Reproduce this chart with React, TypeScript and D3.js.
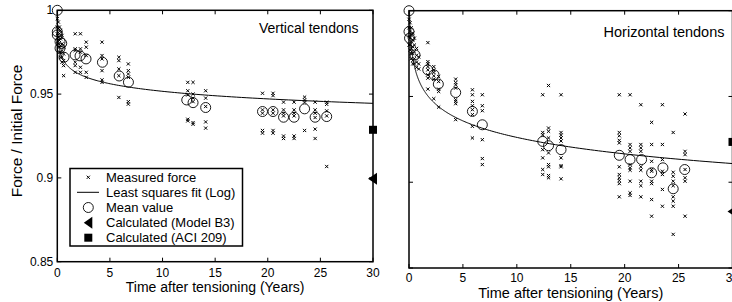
import React from 'react';
import * as d3 from 'd3';

const xTicks = [0, 5, 10, 15, 20, 25, 30];
const xTickLabels = ['0', '5', '10', '15', '20', '25', '30'];
const yTicks = [0.85, 0.9, 0.95, 1];
const yTickLabels = ['0.85', '0.9', '0.95', '1'];

// Vertical tendons – measured force groups
const vertGroupT = [0, 0.1, 0.2, 0.3, 0.45, 0.6, 1.7, 2.2, 2.75, 4.25, 5.85, 6.75, 12.4, 12.9, 14.1, 19.5, 20.5, 21.5, 22.5, 23.5, 24.5, 25.6];
const vertGroupV = [
  [0.995, 0.99, 0.986],
  [0.993, 0.989, 0.984, 0.98],
  [0.99, 0.986, 0.982, 0.978, 0.975],
  [0.988, 0.983, 0.979, 0.975, 0.972],
  [0.985, 0.98, 0.976, 0.972, 0.969],
  [0.978, 0.974, 0.97, 0.967, 0.961],
  [0.986, 0.977, 0.976, 0.969, 0.967, 0.963],
  [0.986, 0.977, 0.975, 0.966, 0.963],
  [0.981, 0.978, 0.973, 0.963, 0.96],
  [0.981, 0.973, 0.971, 0.964, 0.9585, 0.957],
  [0.972, 0.97, 0.965, 0.961, 0.948],
  [0.968, 0.964, 0.962, 0.96, 0.9455, 0.944],
  [0.957, 0.952, 0.9495, 0.935, 0.934],
  [0.957, 0.95, 0.9476, 0.9455, 0.933, 0.932],
  [0.952, 0.9476, 0.9426, 0.9334, 0.9297],
  [0.9505, 0.9406, 0.9386, 0.9283, 0.9267],
  [0.9505, 0.9491, 0.9406, 0.9386, 0.9283, 0.9267],
  [0.9452, 0.9406, 0.9386, 0.937, 0.925, 0.9235],
  [0.9452, 0.9406, 0.9386, 0.937, 0.925, 0.9235],
  [0.9482, 0.9465, 0.9452, 0.9283],
  [0.9452, 0.9406, 0.9386, 0.936, 0.9291, 0.9235],
  [0.9452, 0.9439, 0.94, 0.937, 0.9068],
];
const vertMeanT = [0, 0, 0, 0.26, 0.42, 0.26, 0.64, 1.69, 2.16, 2.73, 4.29, 5.88, 6.76, 12.3, 12.9, 14.1, 19.5, 20.5, 21.5, 22.5, 23.5, 24.5, 25.6];
const vertMeanV = [1.0, 0.9872, 0.9853, 0.9813, 0.9803, 0.9774, 0.972, 0.9734, 0.9728, 0.971, 0.969, 0.9608, 0.9571, 0.9465, 0.9449, 0.942, 0.9396, 0.9396, 0.9362, 0.9362, 0.9412, 0.9362, 0.9366];
const vertFitA = 0.9667;
const vertFitB = 0.00653;
const vertB3 = 0.8995;
const vertACI = 0.9287;

// Horizontal tendons – measured force groups
const horGroupT = [0, 0.1, 0.2, 0.35, 0.5, 0.7, 0.9, 1.75, 2.3, 2.75, 4.33, 5.88, 6.8, 12.4, 12.94, 14.1, 19.5, 20.5, 21.5, 22.5, 23.5, 24.5, 25.6];
const horGroupV = [
  [0.995, 0.99, 0.985, 0.98],
  [0.993, 0.988, 0.984, 0.98, 0.977],
  [0.99, 0.986, 0.982, 0.978, 0.975, 0.972],
  [0.987, 0.983, 0.979, 0.975, 0.971, 0.969],
  [0.984, 0.98, 0.976, 0.972, 0.969],
  [0.978, 0.974, 0.97, 0.967],
  [0.973, 0.969, 0.966],
  [0.9814, 0.9703, 0.969, 0.9674, 0.9655, 0.9626, 0.9607, 0.9543],
  [0.9674, 0.9655, 0.964, 0.962, 0.96, 0.9487],
  [0.9616, 0.9587, 0.9543, 0.9529, 0.9438],
  [0.9601, 0.9581, 0.9568, 0.9549, 0.9481, 0.9471, 0.9458, 0.9365],
  [0.9539, 0.951, 0.9471, 0.9446, 0.9423, 0.9394, 0.9326, 0.9258],
  [0.951, 0.9446, 0.9417, 0.9248, 0.9138, 0.9103],
  [0.951, 0.929, 0.9276, 0.919, 0.9142, 0.9074, 0.9045],
  [0.9564, 0.9316, 0.9297, 0.9258, 0.9171, 0.9103, 0.909, 0.9039, 0.9026],
  [0.951, 0.929, 0.9274, 0.9258, 0.924, 0.9142, 0.9097, 0.909, 0.902],
  [0.951, 0.929, 0.9271, 0.9244, 0.9229, 0.909, 0.9045, 0.9026, 0.901, 0.8992, 0.8915],
  [0.951, 0.922, 0.92, 0.918, 0.9103, 0.9084, 0.907, 0.9006, 0.8938, 0.8923],
  [0.9452, 0.922, 0.92, 0.918, 0.909, 0.907, 0.9006, 0.898, 0.8915],
  [0.9349, 0.922, 0.9122, 0.9074, 0.9064, 0.9006, 0.8992, 0.8899, 0.8802],
  [0.9452, 0.922, 0.9132, 0.9064, 0.9045, 0.8958, 0.886],
  [0.929, 0.9058, 0.9035, 0.9006, 0.898, 0.8915, 0.889, 0.886, 0.8696],
  [0.9398, 0.918, 0.9161, 0.9074, 0.9026, 0.9006, 0.8802],
];
const horMeanT = [0, 0, 0.05, 0.56, 1.74, 2.32, 2.72, 4.33, 5.88, 6.8, 12.4, 12.94, 14.1, 19.5, 20.5, 21.57, 22.5, 23.55, 24.5, 25.57];
const horMeanV = [1.0, 0.9878, 0.984, 0.9742, 0.9655, 0.9626, 0.9572, 0.9523, 0.9413, 0.9335, 0.9238, 0.9213, 0.919, 0.9157, 0.9132, 0.9132, 0.9055, 0.9084, 0.8962, 0.9074];
const horFitA = 0.9581;
const horFitB = 0.01388;
const horB3 = 0.883;
const horACI = 0.9235;

const legendLabels = ['Measured force', 'Least squares fit (Log)', 'Mean value', 'Calculated (Model B3)', 'Calculated (ACI 209)'];

const FONT = 'Liberation Sans, Arial, Helvetica, sans-serif';

type PanelProps = {
  x0: number; x1: number; yTop: number; yBot: number;
  groupT: number[]; groupV: number[][];
  meanT: number[]; meanV: number[];
  fitA: number; fitB: number; b3: number; aci: number;
  title: string; titleX: number; titleY: number; titleSize: number;
  showYLabels: boolean; xLabelY: number; xTitleY: number; xTitleSize: number;
};

function Cross({ cx, cy, s = 1.6 }: { cx: number; cy: number; s?: number }) {
  return (
    <path d={`M${cx - s},${cy - s}L${cx + s},${cy + s}M${cx - s},${cy + s}L${cx + s},${cy - s}`} stroke="#000" strokeWidth={1} fill="none" />
  );
}

function Panel(p: PanelProps) {
  const x = d3.scaleLinear().domain([0, 30]).range([p.x0, p.x1]);
  const y = d3.scaleLinear().domain([0.85, 1]).range([p.yBot, p.yTop]);
  const t0 = Math.exp((p.fitA - 1) / p.fitB);
  const ts = d3.range(0, 301).map(i => t0 * Math.pow(30 / t0, i / 300));
  const line = d3.line<number>().x(t => x(t)).y(t => y(Math.min(1, p.fitA - p.fitB * Math.log(t))));
  const tick = 4;
  const xr = x(30);
  return (
    <g>
      {xTicks.map(t => (
        <g key={'xt' + t}>
          <line x1={x(t)} x2={x(t)} y1={p.yBot} y2={p.yBot - tick} stroke="#000" />
          <line x1={x(t)} x2={x(t)} y1={p.yTop} y2={p.yTop + tick} stroke="#000" />
        </g>
      ))}
      {yTicks.map(v => (
        <g key={'yt' + v}>
          <line x1={p.x0} x2={p.x0 + tick} y1={y(v)} y2={y(v)} stroke="#000" />
          <line x1={xr} x2={xr - tick} y1={y(v)} y2={y(v)} stroke="#000" />
        </g>
      ))}
      {xTicks.map((t, i) => (
        <text key={'xl' + t} x={x(t)} y={p.xLabelY} textAnchor="middle" fontSize={12} fontFamily={FONT}>{xTickLabels[i]}</text>
      ))}
      {p.showYLabels && yTicks.map((v, i) => (
        <text key={'yl' + v} x={p.x0 - 4} y={y(v) + 4} textAnchor="end" fontSize={12} fontFamily={FONT}>{yTickLabels[i]}</text>
      ))}
      <text x={(p.x0 + xr) / 2} y={p.xTitleY} textAnchor="middle" fontSize={p.xTitleSize} fontFamily={FONT}>Time after tensioning (Years)</text>
      <path d={line(ts) || ''} fill="none" stroke="#000" strokeWidth={1} />
      {p.groupT.map((t, gi) => p.groupV[gi].map((v, vi) => (
        <Cross key={`m${gi}-${vi}`} cx={x(t)} cy={y(v)} />
      )))}
      {p.meanT.map((t, i) => (
        <circle key={'c' + i} cx={x(t)} cy={y(p.meanV[i])} r={5} fill="none" stroke="#000" strokeWidth={0.9} />
      ))}
      <rect x={p.x0} y={p.yTop} width={xr - p.x0} height={p.yBot - p.yTop} fill="none" stroke="#000" strokeWidth={1.5} />
      <path d={`M${xr - 5},${y(p.b3)}L${xr + 4},${y(p.b3) - 6}L${xr + 4},${y(p.b3) + 6}Z`} fill="#000" />
      <rect x={xr - 4} y={y(p.aci) - 4} width={8} height={8} fill="#000" />
      <text x={p.titleX} y={p.titleY} textAnchor="end" fontSize={p.titleSize} fontFamily={FONT}>{p.title}</text>
    </g>
  );
}

function Legend() {
  const x0 = 70, y0 = 168.5, w = 172.5, h = 77.5;
  const rows = [177.3, 192.3, 207.5, 222.7, 237.7];
  const mx = 88.3;
  return (
    <g>
      <rect x={x0} y={y0} width={w} height={h} fill="#fff" stroke="#000" strokeWidth={1.5} />
      <Cross cx={mx} cy={rows[0]} />
      <line x1={77} x2={99} y1={rows[1]} y2={rows[1]} stroke="#000" />
      <circle cx={mx} cy={rows[2]} r={5} fill="none" stroke="#000" strokeWidth={0.9} />
      <path d={`M${mx - 4.5},${rows[3]}L${mx + 4},${rows[3] - 6}L${mx + 4},${rows[3] + 6}Z`} fill="#000" />
      <rect x={mx - 4} y={rows[4] - 4} width={8} height={8} fill="#000" />
      {legendLabels.map((l, i) => (
        <text key={l} x={106} y={rows[i] + 4.5} fontSize={13} fontFamily={FONT}>{l}</text>
      ))}
    </g>
  );
}

export default function App() {
  return (
    <svg width={732} height={302} style={{ position: 'absolute', left: 0, top: 0, background: '#fff' }}>
      <rect x={0} y={0} width={732} height={302} fill="#fff" />
      <text transform="translate(22,131) rotate(-90)" textAnchor="middle" fontSize={15.5} fontFamily={FONT}>Force / Initial Force</text>
      <Panel x0={57.3} x1={373} yTop={10.3} yBot={261.7}
        groupT={vertGroupT} groupV={vertGroupV} meanT={vertMeanT} meanV={vertMeanV}
        fitA={vertFitA} fitB={vertFitB} b3={vertB3} aci={vertACI}
        title="Vertical tendons" titleX={358.5} titleY={33} titleSize={14}
        showYLabels={true} xLabelY={276.5} xTitleY={291.5} xTitleSize={14} />
      <Legend />
      <Panel x0={409} x1={732.5} yTop={10.7} yBot={268}
        groupT={horGroupT} groupV={horGroupV} meanT={horMeanT} meanV={horMeanV}
        fitA={horFitA} fitB={horFitB} b3={horB3} aci={horACI}
        title="Horizontal tendons" titleX={724.5} titleY={37} titleSize={14.5}
        showYLabels={false} xLabelY={281.5} xTitleY={297.5} xTitleSize={14.5} />
    </svg>
  );
}
